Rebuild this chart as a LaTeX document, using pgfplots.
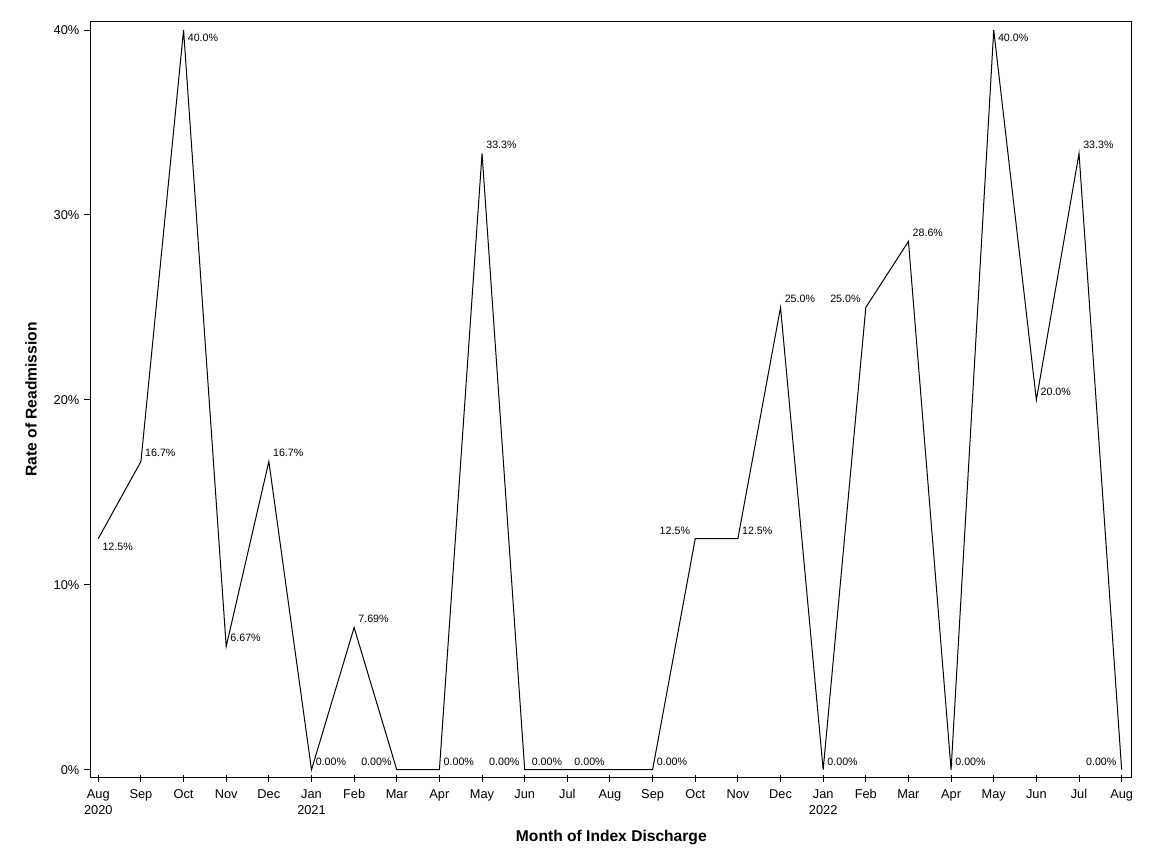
\documentclass[border=0pt]{standalone}
\usepackage{pgfplots}
\pgfplotsset{compat=1.18}
\usepackage{pgfplotstable}
\usepackage{fontspec}
\setmainfont{Liberation Sans}

% monthly readmission rate, Aug 2020 (0) .. Aug 2022 (24)
\pgfplotstableread{
x y
0 12.5
1 16.67
2 40.0
3 6.67
4 16.67
5 0
6 7.69
7 0
8 0
9 33.33
10 0
11 0
12 0
13 0
14 12.5
15 12.5
16 25.0
17 0
18 25.0
19 28.57
20 0
21 40.0
22 20.0
23 33.33
24 0
}\rates

% labels placed above right
\pgfplotstableread{
x y lab
1 16.67 16.7
3 6.67 6.67
4 16.67 16.7
5 0 0.00
6 7.69 7.69
8 0 0.00
9 33.33 33.3
13 0 0.00
15 12.5 12.5
16 25.0 25.0
17 0 0.00
19 28.57 28.6
20 0 0.00
22 20.0 20.0
23 33.33 33.3
}\labAR

% labels placed above left
\pgfplotstableread{
x y lab
7 0 0.00
10 0 0.00
11 0 0.00
12 0 0.00
14 12.5 12.5
18 25.0 25.0
24 0 0.00
}\labAL

% labels placed below right
\pgfplotstableread{
x y lab
0 12.5 12.5
2 40.0 40.0
21 40.0 40.0
}\labBR

\begin{document}
\begin{tikzpicture}
\path[use as bounding box] (-68.25pt,-64.7pt) rectangle (795.75pt,583.3pt);
\begin{axis}[
  width=780.5pt, height=567.5pt, scale only axis,
  xmin=-0.171, xmax=24.235,
  ymin=-0.433, ymax=40.487,
  clip=false,
  axis line style={line width=0.75pt},
  tick align=outside, tick pos=left,
  major tick length=5.25pt,
  tick style={line width=0.75pt, black},
  xtick style={yshift=2.25pt},
  xtick={0,...,24},
  xticklabels={{Aug\\2020},Sep,Oct,Nov,Dec,{Jan\\2021},Feb,Mar,Apr,May,Jun,Jul,Aug,Sep,Oct,Nov,Dec,{Jan\\2022},Feb,Mar,Apr,May,Jun,Jul,Aug},
  ytick={0,10,20,30,40},
  yticklabels={0\%,10\%,20\%,30\%,40\%},
  xticklabel style={align=center, font=\fontsize{9.6}{12}\selectfont},
  yticklabel style={font=\fontsize{9.6}{11.5}\selectfont},
  xlabel={Month of Index Discharge},
  ylabel={Rate of Readmission},
  xlabel style={at={(axis description cs:0.5,-0.0846)}, anchor=base, font=\fontsize{11.7}{14}\selectfont\bfseries},
  ylabel style={at={(axis description cs:-0.0522,0.5)}, anchor=base, font=\fontsize{11.7}{14}\selectfont\bfseries},
  lbl/.style={draw=none, mark=none, point meta=explicit symbolic,
    nodes near coords={\pgfplotspointmeta\%}},
]
\addplot[black, line width=0.75pt, mark=none] table {\rates};

\addplot[lbl, every node near coord/.append style={anchor=base west, inner sep=0pt,
  xshift=3pt, yshift=3.4pt, font=\fontsize{8}{9.6}\selectfont}] table[meta=lab] {\labAR};
\addplot[lbl, every node near coord/.append style={anchor=base east, inner sep=0pt,
  xshift=-3.75pt, yshift=3.4pt, font=\fontsize{8}{9.6}\selectfont}] table[meta=lab] {\labAL};
\addplot[lbl, every node near coord/.append style={anchor=north west, inner sep=0pt,
  xshift=3pt, yshift=-3pt, font=\fontsize{8}{9.6}\selectfont}] table[meta=lab] {\labBR};
\end{axis}
\end{tikzpicture}
\end{document}
